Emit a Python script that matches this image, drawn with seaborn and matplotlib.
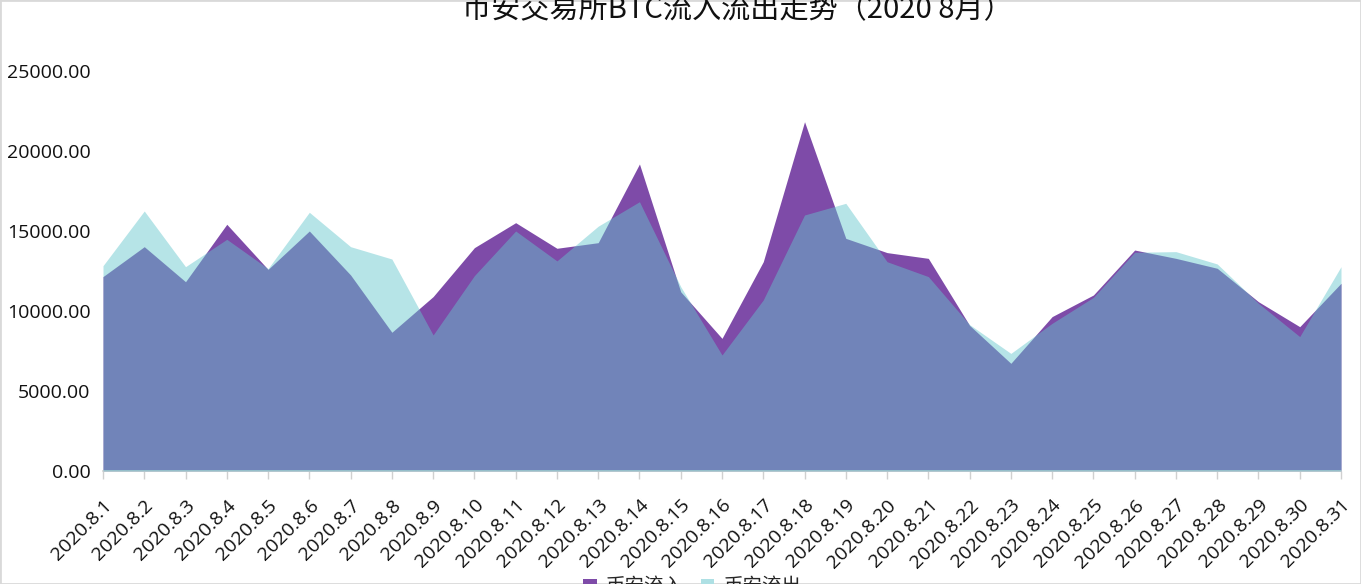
import matplotlib
matplotlib.use("Agg")
import matplotlib.pyplot as plt
import seaborn as sns
import pandas as pd
from matplotlib.patches import Patch, Rectangle

dates = [f"2020.8.{d}" for d in range(1, 32)]
inflow = [12150, 14020, 11830, 15420, 12600, 15000, 12250, 8670, 10900, 13960,
          15520, 13920, 14270, 19190, 11200, 8290, 13080, 21830, 14540, 13650,
          13290, 9100, 6730, 9650, 11000, 13810, 13290, 12670, 10580, 9020, 11730]
outflow = [12830, 16250, 12770, 14480, 12650, 16170, 14020, 13250, 8500, 12210,
           15000, 13130, 15300, 16830, 11520, 7250, 10690, 16000, 16730, 13080,
           12150, 9150, 7350, 9230, 10850, 13670, 13710, 12940, 10480, 8400, 12770]
series_names = ["币安流入", "币安流出"]
yticks = [0, 5000, 10000, 15000, 20000, 25000]

purple = "#7e4ba8"
cyan = "#64c6cd"

sns.set_theme(style="white")
plt.rcParams['font.family'] = ['Open Sans', 'Noto Sans CJK SC', 'DejaVu Sans']

df = pd.DataFrame({"date": dates, "pos": range(len(dates)),
                   series_names[0]: inflow, series_names[1]: outflow})

fig = plt.figure(figsize=(13.61, 5.84), dpi=100)
ax = fig.add_axes([103/1361, 1-471/584, (1341-103)/1361, 400/584])

ax.fill_between(df["pos"], 0, df[series_names[0]], color=purple, linewidth=0, zorder=2)
ax.fill_between(df["pos"], 0, df[series_names[1]], color=cyan, alpha=0.47, linewidth=0, zorder=3)
sns.lineplot(data=df, x="pos", y=series_names[0], ax=ax, color=purple, linewidth=0, zorder=1)

ax.set_xlim(0, len(dates)-1)
ax.set_ylim(0, 25000)
ax.set_xticks(range(len(dates)))
ax.set_xticklabels(dates, rotation=45, ha='right', rotation_mode='anchor', fontsize=14, color='#111111')
ax.set_yticks(yticks)
ax.set_yticklabels([f"{v:.2f}" for v in yticks], fontsize=14, color='#111111')
ax.set_xlabel("")
ax.set_ylabel("")
for s in ["top", "right", "left"]:
    ax.spines[s].set_visible(False)
ax.spines["bottom"].set_color("#d0d0d0")
ax.spines["bottom"].set_linewidth(1.2)
ax.tick_params(axis='x', which='both', bottom=True, length=6, color='#d0d0d0', width=1, pad=12)
ax.tick_params(axis='y', left=False, length=0, pad=9)

fig.text(737/1361, 1-10/584, "币安交易所BTC流入流出走势（2020 8月）", ha='center', va='center',
         fontsize=21, family=['Noto Sans CJK SC', 'DejaVu Sans'], color='#111111')

handles = [Patch(facecolor=purple, edgecolor='none'),
           Patch(facecolor="#aee0e4", edgecolor='none')]
fig.legend(handles, series_names, loc='center', bbox_to_anchor=(692/1361, 1-587/584),
           ncol=2, frameon=False, handlelength=0.7, handleheight=0.7,
           handletextpad=0.45, columnspacing=0.9, prop={'family': ['Noto Sans CJK SC'], 'size': 14})

fig.patches.append(Rectangle((0, 0), 1, 1, transform=fig.transFigure, fill=False,
                             edgecolor='#d9d9d9', linewidth=2))

fig.savefig("out.png", dpi=100)
